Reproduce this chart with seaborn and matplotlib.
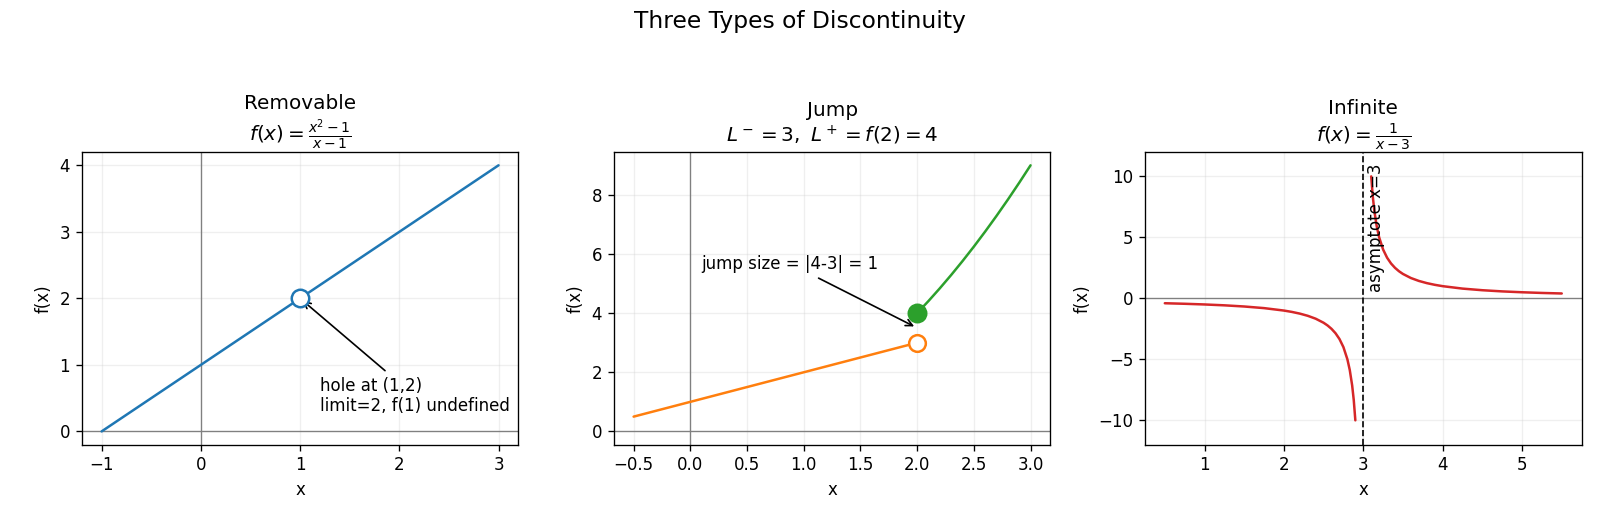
import matplotlib
matplotlib.use("Agg")
import matplotlib.pyplot as plt
import seaborn as sns

# ---- data ----
removable_x = [-1.0, 3.0]
removable_y = [0.0, 4.0]
hole_removable = (1.0, 2.0)

jump_left_x = [-0.5, 2.0]
jump_left_y = [0.5, 3.0]
jump_right_x = [2.0, 2.1, 2.2, 2.3, 2.4, 2.5, 2.6, 2.7, 2.8, 2.9, 3.0]
jump_right_y = [4.0, 4.41, 4.84, 5.29, 5.76, 6.25, 6.76, 7.29, 7.84, 8.41, 9.0]
jump_open = (2.0, 3.0)
jump_closed = (2.0, 4.0)

inf_left_x = [0.5, 0.75, 1.0, 1.25, 1.5, 1.75, 2.0, 2.1, 2.2, 2.3, 2.4, 2.5, 2.55,
              2.6, 2.65, 2.7, 2.75, 2.8, 2.83, 2.86, 2.88, 2.9]
inf_left_y = [-0.4, -0.444, -0.5, -0.571, -0.667, -0.8, -1.0, -1.111, -1.25, -1.429,
              -1.667, -2.0, -2.222, -2.5, -2.857, -3.333, -4.0, -5.0, -5.882, -7.143,
              -8.333, -10.0]
inf_right_x = [3.1, 3.12, 3.14, 3.17, 3.2, 3.25, 3.3, 3.35, 3.4, 3.45, 3.5, 3.6, 3.7,
               3.8, 3.9, 4.0, 4.25, 4.5, 4.75, 5.0, 5.25, 5.5]
inf_right_y = [10.0, 8.333, 7.143, 5.882, 5.0, 4.0, 3.333, 2.857, 2.5, 2.222, 2.0,
               1.667, 1.429, 1.25, 1.111, 1.0, 0.8, 0.667, 0.571, 0.5, 0.444, 0.4]
asymptote_x = 3.0

titles = ["Removable\n$f(x)=\\frac{x^2-1}{x-1}$",
          "Jump\n$L^-=3,\\ L^+=f(2)=4$",
          "Infinite\n$f(x)=\\frac{1}{x-3}$"]
suptitle = "Three Types of Discontinuity"

C0, C1, C2, C3 = "#1f77b4", "#ff7f0e", "#2ca02c", "#d62728"

sns.set_style("white")
plt.rcParams.update({
    "axes.edgecolor": "black",
    "axes.linewidth": 0.8,
    "xtick.bottom": True,
    "ytick.left": True,
    "xtick.color": "black",
    "ytick.color": "black",
    "axes.labelcolor": "black",
    "text.color": "black",
    "font.size": 10,
    "axes.titlesize": 12,
    "axes.labelsize": 10,
    "xtick.labelsize": 10,
    "ytick.labelsize": 10,
})
plt.rcParams["font.family"] = ["DejaVu Sans"]

fig = plt.figure(figsize=(1600 / 120, 517 / 120), dpi=120)
lefts = [0.0511, 0.3836, 0.7156]
axes = [fig.add_axes([l, 0.1398, 0.2729, 0.5662]) for l in lefts]

def base(ax, vline=True):
    ax.axhline(0, color="gray", lw=0.8, zorder=1)
    if vline:
        ax.axvline(0, color="gray", lw=0.8, zorder=1)
    ax.grid(True, alpha=0.3)
    ax.set_xlabel("x")
    ax.set_ylabel("f(x)")

# Panel 1: removable
ax = axes[0]
base(ax)
sns.lineplot(x=removable_x, y=removable_y, ax=ax, color=C0, lw=1.5,
             sort=False, estimator=None, zorder=3)
sns.scatterplot(x=[hole_removable[0]], y=[hole_removable[1]], ax=ax, s=110,
                color="white", edgecolor=C0, linewidth=1.5, zorder=5)
ax.annotate("hole at (1,2)\nlimit=2, f(1) undefined", xy=hole_removable,
            xytext=(1.2, 0.3), arrowprops=dict(arrowstyle="->", color="black", lw=1))
ax.set_xlim(-1.2, 3.2)
ax.set_ylim(-0.2, 4.2)
ax.set_xticks([-1, 0, 1, 2, 3])
ax.set_title(titles[0])

# Panel 2: jump
ax = axes[1]
base(ax)
sns.lineplot(x=jump_left_x, y=jump_left_y, ax=ax, color=C1, lw=1.5,
             sort=False, estimator=None, zorder=3)
sns.lineplot(x=jump_right_x, y=jump_right_y, ax=ax, color=C2, lw=1.5,
             sort=False, estimator=None, zorder=3)
sns.scatterplot(x=[jump_open[0]], y=[jump_open[1]], ax=ax, s=100,
                color="white", edgecolor=C1, linewidth=1.5, zorder=5)
sns.scatterplot(x=[jump_closed[0]], y=[jump_closed[1]], ax=ax, s=110,
                color=C2, edgecolor=C2, linewidth=1.5, zorder=5)
ax.annotate("jump size = |4-3| = 1", xy=(2.0, 3.5), xytext=(0.1, 5.5),
            arrowprops=dict(arrowstyle="->", color="black", lw=1))
ax.set_xlim(-0.675, 3.175)
ax.set_ylim(-0.45, 9.45)
ax.set_yticks([0, 2, 4, 6, 8])
ax.set_title(titles[1])

# Panel 3: infinite
ax = axes[2]
base(ax, vline=False)
sns.lineplot(x=inf_left_x, y=inf_left_y, ax=ax, color=C3, lw=1.5,
             sort=False, estimator=None, zorder=3)
sns.lineplot(x=inf_right_x, y=inf_right_y, ax=ax, color=C3, lw=1.5,
             sort=False, estimator=None, zorder=3)
ax.axvline(asymptote_x, color="black", ls="--", lw=1, zorder=4)
ax.text(asymptote_x + 0.05, 0.5, "asymptote x=3", rotation=90,
        ha="left", va="bottom")
ax.set_xlim(0.25, 5.75)
ax.set_ylim(-12, 12)
ax.set_yticks([-10, -5, 0, 5, 10])
ax.set_title(titles[2])

fig.suptitle(suptitle, fontsize=14)
fig.savefig("out.png", dpi=120)
